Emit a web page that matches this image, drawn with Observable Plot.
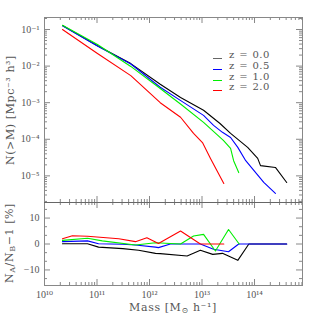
<!DOCTYPE html>
<html><head><meta charset="utf-8">
<script src="https://cdn.jsdelivr.net/npm/d3@7"></script>
<script src="https://cdn.jsdelivr.net/npm/@observablehq/plot@0.6"></script>
<style>
body{margin:0;background:#fff}
#c{position:relative;width:319px;height:319px;font-family:"Liberation Serif","DejaVu Serif",serif;color:#555;overflow:hidden}
#c svg{position:absolute;left:0}
.lab{position:absolute;font-family:"DejaVu Serif",serif;font-size:11px;letter-spacing:0.6px;white-space:nowrap;line-height:1}
.lab sub{font-size:8px;vertical-align:-2px}
.rot{transform:translate(-50%,-50%) rotate(-90deg)}
.leg{position:absolute;font-family:"DejaVu Serif",serif;font-size:10px;letter-spacing:0.4px;word-spacing:1px;white-space:nowrap;line-height:1;transform:translateY(-50%)}
.legline{position:absolute;height:1px;width:9px}
</style></head><body><div id="c"></div>
<script>
const series = ["z = 0.0", "z = 0.5", "z = 1.0", "z = 2.0"];
const colors = ["#000000", "#0000ff", "#00ee00", "#ff0000"];
const legendLineColors = ["#666666", "#0000ff", "#00ee00", "#ff0000"];

// cumulative mass function N(>M)
const massZ00 = [2.2e10, 1.02e11, 4.4e11, 1.6e12, 3.9e12, 1.07e13, 2.2e13, 3.5e13, 7.4e13, 1.15e14, 1.3e14, 2.5e14, 4.1e14];
const nZ00    = [0.128, 0.036, 0.0117, 3.2e-3, 1.38e-3, 6.2e-4, 2.7e-4, 1.45e-4, 6.0e-5, 3.0e-5, 1.9e-5, 1.7e-5, 6.6e-6];
const massZ05 = [2.2e10, 1.02e11, 4.4e11, 1.6e12, 4.0e12, 1.07e13, 1.66e13, 2.45e13, 3.5e13, 4.8e13, 6.8e13, 1.5e14, 2.5e14];
const nZ05    = [0.126, 0.0355, 0.0114, 2.65e-3, 1.12e-3, 4.5e-4, 2.4e-4, 1.55e-4, 1.12e-4, 6.0e-5, 2.6e-5, 6.6e-6, 3.3e-6];
const massZ10 = [2.2e10, 1.02e11, 4.4e11, 1.6e12, 4.0e12, 1.07e13, 2.55e13, 3.5e13, 4.0e13, 5.0e13];
const nZ10    = [0.131, 0.039, 0.0098, 2.45e-3, 8.9e-4, 2.9e-4, 9.3e-5, 5.6e-5, 2.6e-5, 1.23e-5];
const massZ20 = [2.2e10, 1.02e11, 4.4e11, 1.6e12, 3.9e12, 6.9e12, 1.02e13, 1.45e13, 2.6e13];
const nZ20    = [0.1, 0.022, 5.5e-3, 1.0e-3, 4.0e-4, 1.45e-4, 8.1e-5, 3.0e-5, 6.2e-6];

// residuals N_A/N_B - 1 [%]
const rMassZ00 = [2.2e10, 6.6e10, 1.07e11, 3.1e11, 6.2e11, 1.3e12, 1.6e12, 5.2e12, 9.3e12, 1.6e13, 2.45e13, 4.8e13, 7.8e13, 4.1e14];
const ratioZ00 = [0.1, 0.1, -1.2, -1.8, -2.4, -3.6, -3.7, -4.6, -2.4, -4.0, -3.6, -6.3, 0, 0];
const rMassZ05 = [2.2e10, 6.6e10, 1.07e11, 3.1e11, 5.4e11, 1.3e12, 1.48e12, 2.5e12, 9.3e12, 1.66e13, 3.2e13, 5.0e13, 4.1e14];
const ratioZ05 = [0.9, 1.2, 0.1, -0.1, -0.4, -1.2, -1.4, 0, 0, -2, -3, 0, 0];
const rMassZ10 = [2.2e10, 6.6e10, 1.26e11, 5.4e11, 1.3e12, 3.9e12, 6.9e12, 1.07e13, 1.8e13, 3.2e13, 5.1e13];
const ratioZ10 = [1.4, 2.2, 1.2, -0.4, 0.5, 0, 3.1, 3.7, -2.7, 5.6, 0];
const rMassZ20 = [2.2e10, 3.4e10, 6.6e10, 2.6e11, 5.4e11, 8.9e11, 1.48e12, 3.9e12, 9.3e12, 2.6e13];
const ratioZ20 = [2.0, 3.2, 3.0, 2.0, 0.9, 2.4, 0.2, 5.0, 0, 0];

const xTicks = [1e10, 1e11, 1e12, 1e13, 1e14];
const yTicksTop = [1e-1, 1e-2, 1e-3, 1e-4, 1e-5];
const yTicksBottom = [-10, 0, 10];
const yMinorBottom = [-40/3, -20/3, -10/3, 10/3, 20/3, 40/3];

const xDomain = [1e10, 8.2e14];
const yDomainTop = [1.87e-6, 0.213];
const yDomainBottom = [-16, 16];

const massTop = [massZ00, massZ05, massZ10, massZ20];
const nTop = [nZ00, nZ05, nZ10, nZ20];
const massBot = [rMassZ00, rMassZ05, rMassZ10, rMassZ20];
const ratioBot = [ratioZ00, ratioZ05, ratioZ10, ratioZ20];

function minorLog(lo, hi) {
  const out = [];
  for (let e = Math.floor(Math.log10(lo)); e <= Math.ceil(Math.log10(hi)); e++)
    for (let m = 2; m <= 9; m++) { const v = m * Math.pow(10, e); if (v > lo && v < hi) out.push(v); }
  return out;
}
const xMinor = minorLog(xDomain[0], xDomain[1]);
const yMinorTop = minorLog(yDomainTop[0], yDomainTop[1]);

const supMap = {"-": "⁻", "0": "⁰", "1": "¹", "2": "²", "3": "³", "4": "⁴", "5": "⁵", "6": "⁶", "7": "⁷", "8": "⁸", "9": "⁹"};
const sup = v => "10" + String(Math.round(Math.log10(v))).split("").map(c => supMap[c]).join("");

const W = 319, ML = 44, MR = 17, FW = W - ML - MR;
const AX = "#888";
const MAJ = 6, MIN = 3;

function edgeTicks(fh, yMaj, yMin) {
  return [
    Plot.tickX(xTicks, {x: d => d, stroke: AX, insetBottom: fh - MAJ}),
    Plot.tickX(xMinor, {x: d => d, stroke: AX, insetBottom: fh - MIN}),
    Plot.tickX(xTicks, {x: d => d, stroke: AX, insetTop: fh - MAJ}),
    Plot.tickX(xMinor, {x: d => d, stroke: AX, insetTop: fh - MIN}),
    Plot.tickY(yMaj, {y: d => d, stroke: AX, insetRight: FW - MAJ}),
    Plot.tickY(yMin, {y: d => d, stroke: AX, insetRight: FW - MIN}),
    Plot.tickY(yMaj, {y: d => d, stroke: AX, insetLeft: FW - MAJ}),
    Plot.tickY(yMin, {y: d => d, stroke: AX, insetLeft: FW - MIN})
  ];
}

const styleObj = {background: "none", overflow: "visible", fontFamily: '"Liberation Serif","DejaVu Serif",serif', fontSize: "10px", color: "#555"};

// top panel: svg from y=0, frame 17..202
const topH = 210, topMT = 17, topMB = 8;
const topFH = topH - topMT - topMB;
const topPlot = Plot.plot({
  width: W, height: topH, marginLeft: ML, marginRight: MR, marginTop: topMT, marginBottom: topMB,
  style: styleObj,
  x: {type: "log", domain: xDomain, axis: null},
  y: {type: "log", domain: yDomainTop},
  marks: [
    ...edgeTicks(topFH, yTicksTop, yMinorTop),
    Plot.axisY(yTicksTop, {tickSize: 0, tickPadding: 5, tickFormat: sup, label: null, fontSize: 10}),
    ...series.map((s, i) => Plot.line(massTop[i].map((m, j) => ({m, n: nTop[i][j]})), {x: "m", y: "n", stroke: colors[i], strokeWidth: 1.1})),
    Plot.frame({stroke: AX}),
  ]
});

// bottom panel: svg from y=194, frame 202..285
const botTop = 194, botH = W - botTop, botMT = 8, botMB = 34;
const botFH = botH - botMT - botMB;
const botPlot = Plot.plot({
  width: W, height: botH, marginLeft: ML, marginRight: MR, marginTop: botMT, marginBottom: botMB,
  style: styleObj,
  x: {type: "log", domain: xDomain},
  y: {domain: yDomainBottom},
  marks: [
    ...edgeTicks(botFH, yTicksBottom, yMinorBottom),
    Plot.axisX(xTicks, {tickSize: 0, tickPadding: 5, tickFormat: sup, label: null, fontSize: 10}),
    Plot.axisY(yTicksBottom, {tickSize: 0, tickPadding: 5, tickFormat: d => d < 0 ? "−" + Math.abs(d) : String(d), label: null, fontSize: 10}),
    ...series.map((s, i) => Plot.line(massBot[i].map((m, j) => ({m, r: ratioBot[i][j]})), {x: "m", y: "r", stroke: colors[i], strokeWidth: 1.1})),
    Plot.frame({stroke: AX}),
  ]
});

const c = document.getElementById("c");
topPlot.style.top = "0px";
botPlot.style.top = botTop + "px";
c.appendChild(topPlot);
c.appendChild(botPlot);

// separator line between panels (darker)
const sep = document.createElement("div");
sep.style.cssText = `position:absolute;left:${ML}px;top:201.5px;width:${FW}px;height:1px;background:#666`;
c.appendChild(sep);

function addLabel(html, x, y, rot) {
  const d = document.createElement("div");
  d.className = "lab" + (rot ? " rot" : "");
  d.innerHTML = html;
  d.style.left = x + "px"; d.style.top = y + "px";
  if (!rot) d.style.transform = "translate(-50%,-50%)";
  c.appendChild(d);
}
addLabel("N(&gt;M) [Mpc⁻³ h³]", 10, 110, true);
addLabel("N<sub>A</sub>/N<sub>B</sub>−1 [%]", 10, 243, true);
addLabel("Mass [M<sub>⊙</sub> h⁻¹]", 173, 308, false);

// legend
const legY = [55, 66, 76.5, 87];
series.forEach((s, i) => {
  const l = document.createElement("div");
  l.className = "legline";
  l.style.cssText += `left:213px;top:${legY[i] + 3}px;background:${legendLineColors[i]}`;
  c.appendChild(l);
  const t = document.createElement("div");
  t.className = "leg";
  t.textContent = s;
  t.style.left = "229px"; t.style.top = legY[i] + "px";
  c.appendChild(t);
});
</script></body></html>
